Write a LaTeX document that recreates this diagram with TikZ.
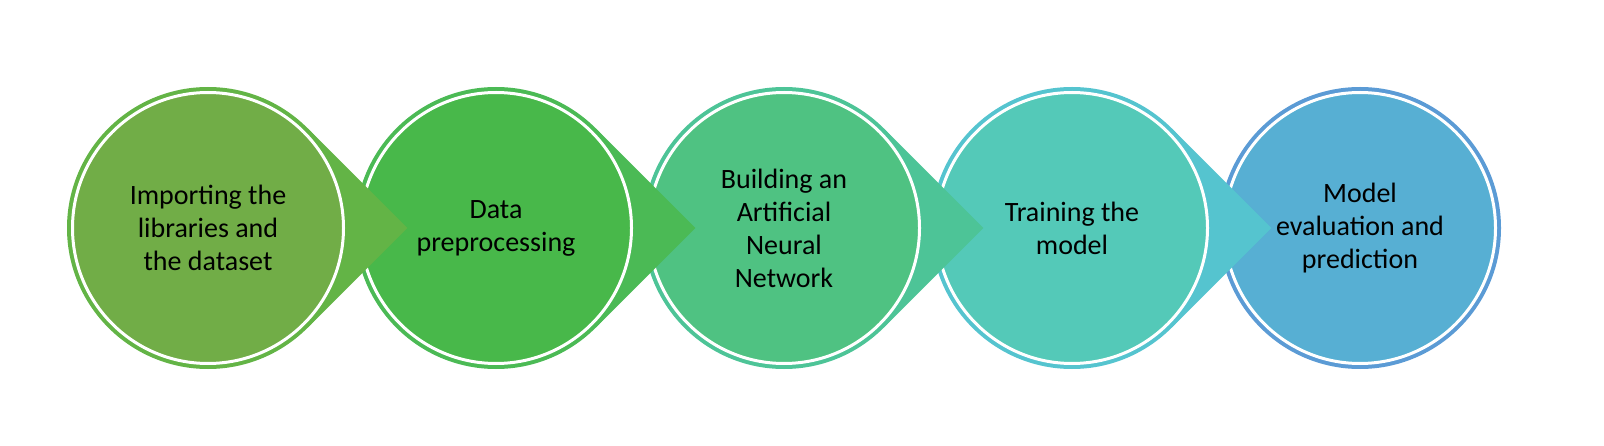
\documentclass[tikz,border=0pt]{standalone}
\usepackage{fontspec}
\setmainfont{Carlito}
\begin{document}
\begin{tikzpicture}[x=1pt,y=-1pt,
  lbl/.style={align=center,font=\fontsize{28}{33}\selectfont,text=black}]
\useasboundingbox (0,0) rectangle (1604,446);
\definecolor{r1}{HTML}{63B446}\definecolor{f1}{HTML}{71AD47}
\definecolor{r2}{HTML}{4BBA55}\definecolor{f2}{HTML}{48B84A}
\definecolor{r3}{HTML}{4DC497}\definecolor{f3}{HTML}{4FC282}
\definecolor{r4}{HTML}{55C4CF}\definecolor{f4}{HTML}{54C9B8}
\definecolor{r5}{HTML}{5B9BD5}\definecolor{f5}{HTML}{57AFD3}
\foreach \i/\last in {5/1,4/0,3/0,2/0,1/0}{
  \pgfmathsetmacro\cx{208+288*(\i-1)}
  \fill[r\i] (\cx,228) circle (141);
  \ifnum\last=0
    \fill[r\i] (\cx+199.4,228) -- (\cx+99.7,128.3) -- (\cx,228) -- (\cx+99.7,327.7) -- cycle;
  \fi
  \fill[f\i,draw=white,line width=3] (\cx,228) circle (135.5);
  \coordinate (c\i) at (\cx,228);
}
\node[lbl] (t1) at (c1) {Importing the\\libraries and\\the dataset};
\node[lbl] (t2) at (c2) {Data\\preprocessing};
\node[lbl] (t3) at (c3) {Building an\\Artificial\\Neural\\Network};
\node[lbl] (t4) at (c4) {Training the\\model};
\node[lbl] (t5) at (c5) {Model\\evaluation and\\prediction};
\end{tikzpicture}
\end{document}
